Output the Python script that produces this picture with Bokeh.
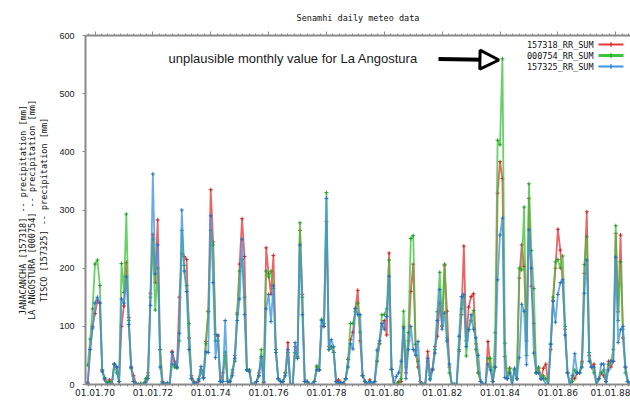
import numpy as np
import pandas as pd
from bokeh.plotting import figure
from bokeh.models import (Range1d, FixedTicker, LinearAxis, Label, Arrow, NormalHead,
                          BoxAnnotation, CustomJSTickFormatter, ColumnDataSource)
from bokeh.embed import file_html
from bokeh.resources import INLINE

# ---------------- data (monthly sums, Oct 1969 .. Jul 1988) ----------------
FIRST_MONTH = "1969-10-01"

rr_157318 = [  # JANACANCHA (red)
    2, 60, 100,
    122, 145, 140, 25, 8, 3, 8, 2, 35, 30, 5, 100,
    135, 210, 115, 30, 15, 2, 0, 0, 0, 5, 20, 157,
    258, 175, 283, 60, 5, 0, 0, 0, 57, 40, 30, 150,
    225, 220, 215, 80, 15, 5, 0, 5, 25, 12, 74, 125,
    335, 245, 86, 83, 5, 20, 50, 5, 5, 20, 50, 123,
    207, 285, 220, 25, 25, 0, 0, 5, 20, 45, 3, 235,
    190, 155, 222, 60, 10, 5, 5, 20, 72, 0, 0, 65,
    48, 265, 155, 5, 5, 0, 0, 5, 30, 25, 100, 100,
    280, 65, 65, 55, 5, 8, 3, 2, 10, 43, 77, 90,
    130, 162, 75, 15, 5, 0, 8, 0, 5, 40, 70, 100,
    110, 85, 226, 26, 0, 0, 5, 5, 100, 20, 75, 160,
    207, 59, 30, 5, 0, 0, 57, 15, 27, 65, 83, 140,
    100, 205, 126, 30, 0, 0, 0, 57, 120, 238, 75, 133,
    151, 156, 70, 20, 5, 0, 0, 74, 30, 5, 30, 329,
    383, 354, 48, 10, 28, 0, 25, 10, 183, 240, 203, 75,
    320, 169, 105, 20, 28, 10, 28, 35, 0, 60, 145, 200,
    267, 231, 175, 95, 20, 0, 10, 10, 20, 20, 40, 191,
    297, 50, 30, 35, 0, 10, 20, 15, 5, 40, 30, 40,
    260, 125, 257, 80, 30, 5, 0,
]

rr_000754 = [  # LA ANGOSTURA (green)
    33, 78, 130,
    207, 214, 170, 25, 12, 3, 5, 0, 35, 20, 5, 208,
    158, 293, 110, 28, 5, 0, 0, 2, 0, 10, 15, 150,
    250, 128, 200, 60, 3, 0, 0, 0, 35, 30, 28, 75,
    265, 205, 170, 105, 10, 3, 0, 10, 25, 12, 70, 126,
    265, 240, 75, 75, 5, 5, 56, 5, 5, 25, 40, 120,
    195, 215, 150, 25, 25, 0, 0, 5, 15, 60, 5, 195,
    185, 195, 165, 60, 10, 5, 5, 20, 55, 0, 0, 55,
    45, 278, 150, 5, 5, 0, 0, 5, 32, 25, 112, 105,
    330, 60, 65, 55, 5, 2, 3, 2, 10, 43, 105, 105,
    125, 140, 90, 15, 5, 0, 5, 0, 5, 40, 70, 120,
    120, 130, 214, 26, 0, 0, 3, 10, 126, 30, 89, 251,
    256, 69, 40, 0, 0, 0, 40, 10, 25, 60, 125, 193,
    101, 207, 80, 20, 0, 0, 0, 60, 130, 150, 49, 95,
    110, 127, 60, 20, 5, 0, 0, 45, 45, 5, 89, 420,
    412, 560, 71, 10, 28, 0, 25, 10, 200, 197, 305, 50,
    345, 230, 165, 20, 30, 10, 15, 10, 0, 70, 150, 211,
    215, 200, 221, 100, 20, 0, 5, 25, 20, 20, 37, 206,
    254, 55, 30, 20, 0, 10, 20, 25, 5, 35, 40, 60,
    273, 110, 211, 95, 20, 5, 0,
]

rr_157325 = [  # TISCO (blue)
    3, 60, 97,
    140, 150, 140, 22, 10, 0, 0, 0, 35, 30, 5, 147,
    140, 185, 103, 30, 5, 0, 0, 0, 0, 3, 10, 136,
    362, 190, 240, 30, 2, 0, 3, 0, 55, 35, 30, 88,
    300, 195, 160, 60, 10, 2, 2, 8, 31, 10, 56, 55,
    290, 175, 46, 85, 5, 5, 110, 5, 5, 15, 45, 110,
    147, 250, 120, 25, 22, 0, 0, 5, 15, 48, 0, 130,
    155, 108, 170, 55, 10, 5, 5, 15, 60, 0, 0, 72,
    45, 240, 120, 5, 5, 0, 0, 5, 25, 25, 110, 100,
    320, 60, 77, 65, 5, 2, 3, 2, 10, 30, 70, 61,
    131, 120, 120, 15, 5, 0, 5, 0, 5, 59, 75, 105,
    95, 117, 186, 26, 0, 14, 20, 40, 97, 10, 60, 100,
    60, 50, 74, 0, 0, 0, 45, 8, 25, 54, 110, 163,
    95, 123, 75, 35, 0, 0, 0, 83, 151, 155, 65, 94,
    120, 95, 80, 50, 5, 0, 0, 35, 25, 5, 30, 180,
    257, 286, 12, 10, 20, 0, 28, 10, 46, 138, 126, 34,
    266, 200, 54, 20, 20, 10, 10, 0, 0, 69, 143, 107,
    155, 175, 180, 85, 20, 0, 15, 53, 20, 20, 30, 157,
    214, 40, 30, 30, 0, 10, 35, 35, 5, 25, 40, 40,
    219, 72, 94, 100, 30, 5, 0,
]

series_names = ["157318_RR_SUM", "000754_RR_SUM", "157325_RR_SUM"]
series_values = [rr_157318, rr_000754, rr_157325]
line_colors = ["#e63a3a", "#3cc43c", "#3c94e6"]
mark_colors = ["#c81e1e", "#1f9a1f", "#1d6cc4"]
legend_widths = [2, 3, 2]

tick_years = [1970, 1972, 1974, 1976, 1978, 1980, 1982, 1984, 1986, 1988]
tick_labels = ["01.01.70", "01.01.72", "01.01.74", "01.01.76", "01.01.78",
               "01.01.80", "01.01.82", "01.01.84", "01.01.86", "01.01.88"]
y_ticks = [0, 100, 200, 300, 400, 500, 600]

title_text = "Senamhi daily meteo data"
ylabel_lines = ["JANACANCHA [157318] -- precipitation [mm]",
                "LA ANGOSTURA [000754] -- precipitation [mm]",
                "TISCO [157325] -- precipitation [mm]"]
note_text = "unplausible monthly value for La Angostura"

# ---------------- geometry ----------------
W, H = 630, 405
FL, FT, FB = 85, 35, 384          # frame left / top / bottom (px)
FW = W - FL                        # frame right at the canvas edge
PX_PER_YEAR = 28.93
X0 = 1970 - 9.5 / PX_PER_YEAR
X1 = X0 + FW / PX_PER_YEAR

def px2x(px):
    return X0 + (px - FL) * (X1 - X0) / FW

def py2y(py):
    return (FB - py) * 600.0 / (FB - FT)

months = pd.date_range(FIRST_MONTH, periods=len(rr_157318), freq="MS")
xdec = np.asarray(months.year + (months.month - 1) / 12.0, dtype=float)

p = figure(width=W, height=H, output_backend="svg", toolbar_location=None,
           x_range=Range1d(X0, X1), y_range=Range1d(0, 600),
           min_border_left=FL, min_border_right=0, min_border_top=FT,
           min_border_bottom=H - FB)
p.outline_line_color = None
p.xgrid.visible = False
p.ygrid.visible = False
p.background_fill_color = "white"
p.border_fill_color = "white"

# title
p.title.text = title_text
p.title.text_font = "DejaVu Sans Mono"
p.title.text_font_size = "8.5px"
p.title.text_font_style = "normal"
p.title.text_color = "#111111"
p.title.align = "center"
p.title.standoff = 18

AXC = "#8a8a8a"
minor = [1968 + k * 2.0 / 9.0 for k in range(0, 9 * 11 + 1)]

# bottom axis
xa = p.xaxis[0]
xa.ticker = FixedTicker(ticks=tick_years, minor_ticks=minor)
xa.major_label_overrides = {y: l for y, l in zip(tick_years, tick_labels)}
xa.major_label_text_font = "DejaVu Sans"
xa.major_label_text_font_size = "9px"
xa.major_label_text_color = "#222222"
xa.major_label_standoff = 1
xa.axis_line_color = AXC
xa.axis_line_width = 2
xa.major_tick_line_color = AXC
xa.minor_tick_line_color = AXC
xa.major_tick_out = 3
xa.major_tick_in = 0
xa.minor_tick_out = 2
xa.minor_tick_in = 0

# left axis (innermost label line: TISCO)
ya = p.yaxis[0]
ya.ticker = FixedTicker(ticks=y_ticks, minor_ticks=[])
ya.major_label_text_font = "Liberation Sans"
ya.major_label_text_font_size = "9px"
ya.major_label_text_color = "#222222"
ya.major_label_standoff = 8
ya.axis_line_color = AXC
ya.axis_line_width = 2
ya.major_tick_line_color = AXC
ya.major_tick_out = 3
ya.major_tick_in = 0
ya.minor_tick_line_color = None
ya.axis_label = ylabel_lines[2]
ya.axis_label_text_font = "DejaVu Sans Mono"
ya.axis_label_text_font_size = "8.5px"
ya.axis_label_text_font_style = "normal"
ya.axis_label_text_color = "#111111"
ya.axis_label_standoff = 7

# two more label-only axes for the other label lines
for txt, so in [(ylabel_lines[1], 0), (ylabel_lines[0], -4)]:
    ax = LinearAxis(ticker=FixedTicker(ticks=[]), axis_line_color=None,
                    major_tick_out=0, major_tick_in=0, minor_tick_out=0, minor_tick_in=0,
                    major_label_standoff=0,
                    axis_label=txt, axis_label_text_font="DejaVu Sans Mono",
                    axis_label_text_font_size="8.5px", axis_label_text_font_style="normal",
                    axis_label_text_color="#111111", axis_label_standoff=so)
    p.add_layout(ax, "left")

# top axis (ticks only)
top = LinearAxis(ticker=FixedTicker(ticks=tick_years, minor_ticks=minor),
                 formatter=CustomJSTickFormatter(code="return ''"),
                 major_label_standoff=0, major_label_text_font_size="1px",
                 axis_line_color=AXC, axis_line_width=2,
                 major_tick_line_color=AXC, minor_tick_line_color=AXC,
                 major_tick_out=4, major_tick_in=0, minor_tick_out=2, minor_tick_in=0)
p.add_layout(top, "above")

# series
for name, vals, lc, mc in zip(series_names, series_values, line_colors, mark_colors):
    src = ColumnDataSource(dict(x=xdec, y=np.asarray(vals, dtype=float)))
    p.line("x", "y", source=src, line_color=lc, line_width=1.8, line_alpha=0.78)
    p.scatter("x", "y", source=src, marker="cross", size=4, line_width=1,
              line_color=mc, line_alpha=0.9)

# legend (text right-aligned, line sample on the right)
for k, (name, lc, mc, lw) in enumerate(zip(series_names, line_colors, mark_colors, legend_widths)):
    py = 44 + 11 * k
    yc = py2y(py)
    p.add_layout(Label(x=px2x(593), y=yc, text=name, text_font="DejaVu Sans Mono",
                       text_font_size="8.5px", text_color="#111111",
                       text_align="right", text_baseline="middle"))
    h = lw / 2.0 * 600.0 / (FB - FT)
    p.add_layout(BoxAnnotation(left=px2x(598), right=px2x(623), bottom=yc - h, top=yc + h,
                               fill_color=lc, fill_alpha=1.0, line_color=None))
    h2 = 2.5 * 600.0 / (FB - FT)
    p.add_layout(BoxAnnotation(left=px2x(610), right=px2x(611), bottom=yc - h2, top=yc + h2,
                               fill_color=mc, fill_alpha=1.0, line_color=None))

# annotation + arrow to the La Angostura spike
p.add_layout(Label(x=px2x(168), y=py2y(58), text=note_text, text_font="Liberation Sans",
                   text_font_size="13px", text_color="#1a1a1a", text_align="left",
                   text_baseline="middle"))
spike = int(np.argmax(rr_000754))
dx = (X1 - X0) / FW
tip_x = xdec[spike] - 3.5 * dx
p.add_layout(Arrow(end=NormalHead(size=19, line_width=3, line_color="black", fill_color="white"),
                   x_start=px2x(438), y_start=py2y(58.5), x_end=tip_x, y_end=py2y(59.5),
                   line_color="black", line_width=4))

open("out.html", "w").write(file_html(p, INLINE))
